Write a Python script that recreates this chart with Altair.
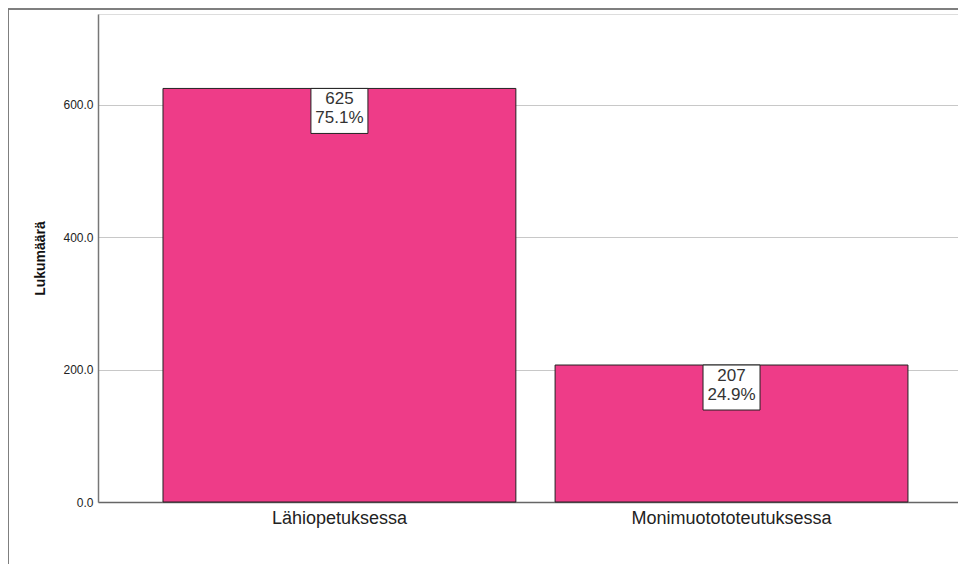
import altair as alt
import pandas as pd

categories = ["Lähiopetuksessa", "Monimuotototeutuksessa"]
counts = [625, 207]
percents = ["75.1%", "24.9%"]
y_ticks = [0, 200, 400, 600]

df = pd.DataFrame({"cat": categories, "n": counts, "pct": percents})
df["label"] = df["n"].astype(str) + "\n" + df["pct"]

FONT = "Liberation Sans"
PINK = "#EE3C88"

x_enc = alt.X(
    "cat:N",
    sort=categories,
    scale=alt.Scale(paddingInner=0.1, paddingOuter=0.1467, align=0.565),
    axis=alt.Axis(
        title=None, labelAngle=0, labelFontSize=18, labelColor="#222",
        labelFont=FONT, ticks=False, labelPadding=7, domainColor="#666",
        domainWidth=1.5, grid=False, labelLimit=0,
    ),
)
y_scale = alt.Scale(domain=[0, 737.5], nice=False)
y_enc = alt.Y(
    "n:Q",
    scale=y_scale,
    axis=alt.Axis(
        title="Lukumäärä", values=y_ticks, format=".1f", labelFontSize=12,
        labelFont=FONT, labelColor="#222", ticks=False, labelPadding=5,
        domainColor="#777", domainWidth=1.5, gridColor="#c8c8c8", gridWidth=1,
        titleFont=FONT, titleFontSize=14, titleFontWeight="bold", titleColor="#111",
        titleX=-58, titleY=244, titleAngle=-90, titleAlign="center",
        titleBaseline="middle",
    ),
)

base = alt.Chart(df)

bars = base.mark_bar(color=PINK, stroke="#222", strokeWidth=1).encode(x=x_enc, y=y_enc)

boxes = base.mark_point(
    shape="M-1,0H1V1.579H-1Z", size=57 * 57, filled=True, fill="white",
    stroke="#222", strokeWidth=1, opacity=1,
).encode(x=alt.X("cat:N", sort=categories), y=alt.Y("n:Q", scale=y_scale))

texts = base.mark_text(
    baseline="top", dy=3, fontSize=17, font=FONT, color="#333",
    lineBreak="\n", lineHeight=19,
).encode(x=alt.X("cat:N", sort=categories), y=alt.Y("n:Q", scale=y_scale), text="label:N")

frame_left = alt.Chart(df).mark_rule(color="#777", strokeWidth=1.5, clip=False).encode(
    x=alt.value(-90), y=alt.value(-5), y2=alt.value(560)
)
frame_top = alt.Chart(df).mark_rule(color="#777", strokeWidth=1.5, clip=False).encode(
    x=alt.value(-90), x2=alt.value(870), y=alt.value(-5)
)

chart = (
    alt.layer(bars, boxes, texts, frame_left, frame_top)
    .properties(
        width=860, height=488,
        autosize=alt.AutoSizeParams(type="none"),
        padding={"left": 90, "top": 6, "right": 0, "bottom": 62},
    )
    .configure_view(stroke=None)
    .configure(background="white")
)

chart.save("out.html", embed_options={"renderer": "svg", "actions": False})
